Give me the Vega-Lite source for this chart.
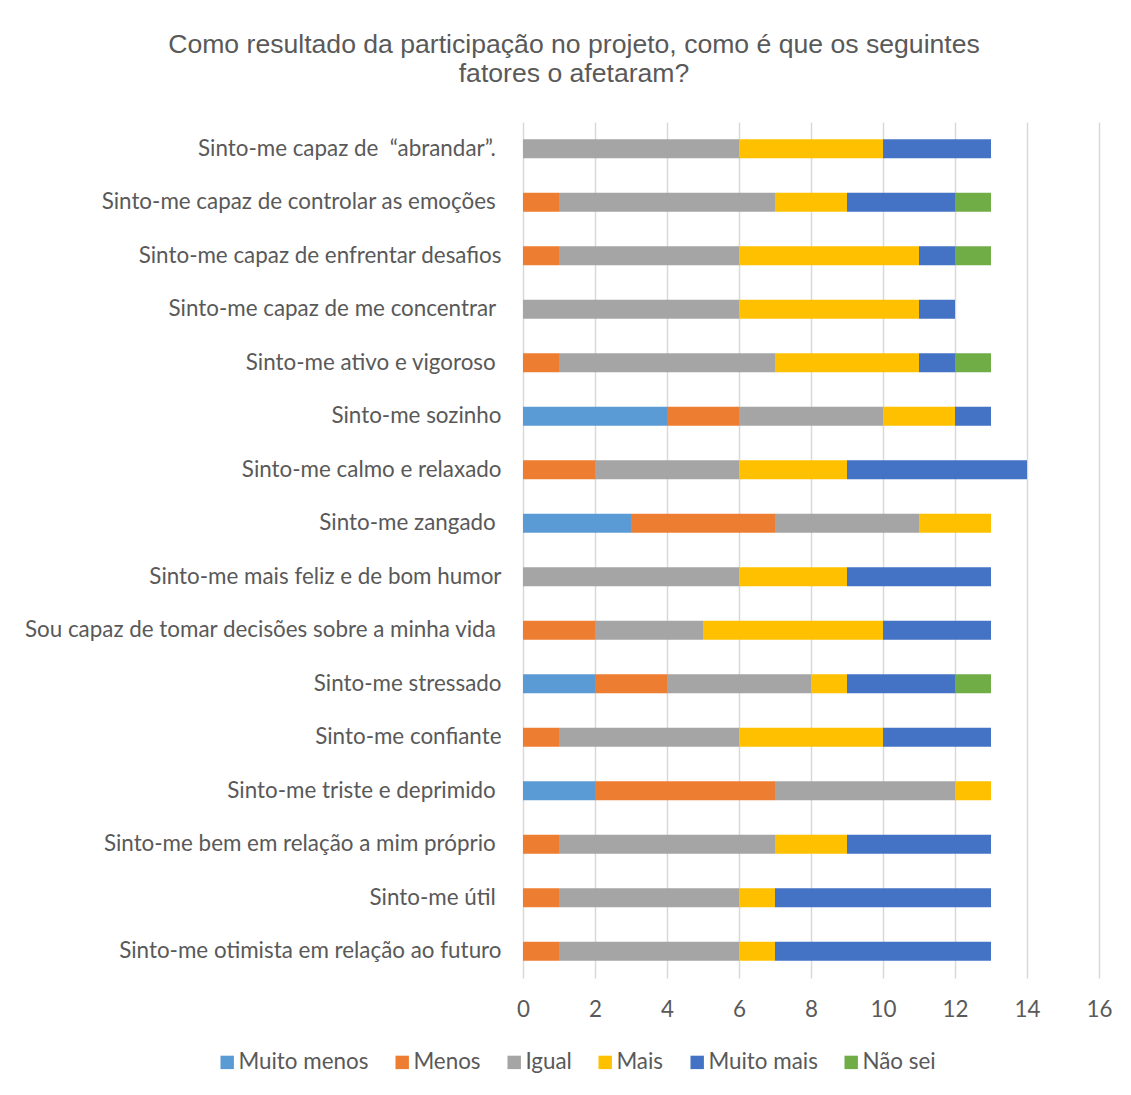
{
  "$schema": "https://vega.github.io/schema/vega-lite/v6.json",
  "autosize": {"type": "none"},
  "width": 576,
  "height": 856,
  "padding": {"left": 523, "top": 122, "right": 32, "bottom": 117},
  "background": "white",
  "title": {
    "text": ["Como resultado da participação no projeto, como é que os seguintes", "fatores o afetaram?"],
    "font": "Liberation Sans",
    "fontSize": 26.6,
    "fontWeight": "normal",
    "color": "#595959",
    "anchor": "middle",
    "frame": "group",
    "dx": -237,
    "lineHeight": 29,
    "offset": 34
  },
  "data": {
    "values": [
      {"item": "Sinto-me capaz de\u00a0 “abrandar”.\u00a0\u200b", "resposta": "Igual", "n": 6},
      {"item": "Sinto-me capaz de\u00a0 “abrandar”.\u00a0\u200b", "resposta": "Mais", "n": 4},
      {"item": "Sinto-me capaz de\u00a0 “abrandar”.\u00a0\u200b", "resposta": "Muito mais", "n": 3},
      {"item": "Sinto-me capaz de controlar as emoções\u00a0\u200b", "resposta": "Menos", "n": 1},
      {"item": "Sinto-me capaz de controlar as emoções\u00a0\u200b", "resposta": "Igual", "n": 6},
      {"item": "Sinto-me capaz de controlar as emoções\u00a0\u200b", "resposta": "Mais", "n": 2},
      {"item": "Sinto-me capaz de controlar as emoções\u00a0\u200b", "resposta": "Muito mais", "n": 3},
      {"item": "Sinto-me capaz de controlar as emoções\u00a0\u200b", "resposta": "Não sei", "n": 1},
      {"item": "Sinto-me capaz de enfrentar desafios", "resposta": "Menos", "n": 1},
      {"item": "Sinto-me capaz de enfrentar desafios", "resposta": "Igual", "n": 5},
      {"item": "Sinto-me capaz de enfrentar desafios", "resposta": "Mais", "n": 5},
      {"item": "Sinto-me capaz de enfrentar desafios", "resposta": "Muito mais", "n": 1},
      {"item": "Sinto-me capaz de enfrentar desafios", "resposta": "Não sei", "n": 1},
      {"item": "Sinto-me capaz de me concentrar\u00a0\u200b", "resposta": "Igual", "n": 6},
      {"item": "Sinto-me capaz de me concentrar\u00a0\u200b", "resposta": "Mais", "n": 5},
      {"item": "Sinto-me capaz de me concentrar\u00a0\u200b", "resposta": "Muito mais", "n": 1},
      {"item": "Sinto-me ativo e vigoroso\u00a0\u200b", "resposta": "Menos", "n": 1},
      {"item": "Sinto-me ativo e vigoroso\u00a0\u200b", "resposta": "Igual", "n": 6},
      {"item": "Sinto-me ativo e vigoroso\u00a0\u200b", "resposta": "Mais", "n": 4},
      {"item": "Sinto-me ativo e vigoroso\u00a0\u200b", "resposta": "Muito mais", "n": 1},
      {"item": "Sinto-me ativo e vigoroso\u00a0\u200b", "resposta": "Não sei", "n": 1},
      {"item": "Sinto-me sozinho", "resposta": "Muito menos", "n": 4},
      {"item": "Sinto-me sozinho", "resposta": "Menos", "n": 2},
      {"item": "Sinto-me sozinho", "resposta": "Igual", "n": 4},
      {"item": "Sinto-me sozinho", "resposta": "Mais", "n": 2},
      {"item": "Sinto-me sozinho", "resposta": "Muito mais", "n": 1},
      {"item": "Sinto-me calmo e relaxado", "resposta": "Menos", "n": 2},
      {"item": "Sinto-me calmo e relaxado", "resposta": "Igual", "n": 4},
      {"item": "Sinto-me calmo e relaxado", "resposta": "Mais", "n": 3},
      {"item": "Sinto-me calmo e relaxado", "resposta": "Muito mais", "n": 5},
      {"item": "Sinto-me zangado\u00a0\u200b", "resposta": "Muito menos", "n": 3},
      {"item": "Sinto-me zangado\u00a0\u200b", "resposta": "Menos", "n": 4},
      {"item": "Sinto-me zangado\u00a0\u200b", "resposta": "Igual", "n": 4},
      {"item": "Sinto-me zangado\u00a0\u200b", "resposta": "Mais", "n": 2},
      {"item": "Sinto-me mais feliz e de bom humor", "resposta": "Igual", "n": 6},
      {"item": "Sinto-me mais feliz e de bom humor", "resposta": "Mais", "n": 3},
      {"item": "Sinto-me mais feliz e de bom humor", "resposta": "Muito mais", "n": 4},
      {"item": "Sou capaz de tomar decisões sobre a minha vida\u00a0\u200b", "resposta": "Menos", "n": 2},
      {"item": "Sou capaz de tomar decisões sobre a minha vida\u00a0\u200b", "resposta": "Igual", "n": 3},
      {"item": "Sou capaz de tomar decisões sobre a minha vida\u00a0\u200b", "resposta": "Mais", "n": 5},
      {"item": "Sou capaz de tomar decisões sobre a minha vida\u00a0\u200b", "resposta": "Muito mais", "n": 3},
      {"item": "Sinto-me stressado", "resposta": "Muito menos", "n": 2},
      {"item": "Sinto-me stressado", "resposta": "Menos", "n": 2},
      {"item": "Sinto-me stressado", "resposta": "Igual", "n": 4},
      {"item": "Sinto-me stressado", "resposta": "Mais", "n": 1},
      {"item": "Sinto-me stressado", "resposta": "Muito mais", "n": 3},
      {"item": "Sinto-me stressado", "resposta": "Não sei", "n": 1},
      {"item": "Sinto-me confiante", "resposta": "Menos", "n": 1},
      {"item": "Sinto-me confiante", "resposta": "Igual", "n": 5},
      {"item": "Sinto-me confiante", "resposta": "Mais", "n": 4},
      {"item": "Sinto-me confiante", "resposta": "Muito mais", "n": 3},
      {"item": "Sinto-me triste e deprimido\u00a0\u200b", "resposta": "Muito menos", "n": 2},
      {"item": "Sinto-me triste e deprimido\u00a0\u200b", "resposta": "Menos", "n": 5},
      {"item": "Sinto-me triste e deprimido\u00a0\u200b", "resposta": "Igual", "n": 5},
      {"item": "Sinto-me triste e deprimido\u00a0\u200b", "resposta": "Mais", "n": 1},
      {"item": "Sinto-me bem em relação a mim próprio\u00a0\u200b", "resposta": "Menos", "n": 1},
      {"item": "Sinto-me bem em relação a mim próprio\u00a0\u200b", "resposta": "Igual", "n": 6},
      {"item": "Sinto-me bem em relação a mim próprio\u00a0\u200b", "resposta": "Mais", "n": 2},
      {"item": "Sinto-me bem em relação a mim próprio\u00a0\u200b", "resposta": "Muito mais", "n": 4},
      {"item": "Sinto-me útil\u00a0\u200b", "resposta": "Menos", "n": 1},
      {"item": "Sinto-me útil\u00a0\u200b", "resposta": "Igual", "n": 5},
      {"item": "Sinto-me útil\u00a0\u200b", "resposta": "Mais", "n": 1},
      {"item": "Sinto-me útil\u00a0\u200b", "resposta": "Muito mais", "n": 6},
      {"item": "Sinto-me otimista em relação ao futuro", "resposta": "Menos", "n": 1},
      {"item": "Sinto-me otimista em relação ao futuro", "resposta": "Igual", "n": 5},
      {"item": "Sinto-me otimista em relação ao futuro", "resposta": "Mais", "n": 1},
      {"item": "Sinto-me otimista em relação ao futuro", "resposta": "Muito mais", "n": 6}
    ]
  },
  "transform": [
    {"calculate": "indexof(['Muito menos', 'Menos', 'Igual', 'Mais', 'Muito mais', 'Não sei'], datum.resposta)", "as": "ordem"}
  ],
  "mark": {"type": "bar"},
  "encoding": {
    "y": {
      "field": "item",
      "type": "nominal",
      "sort": null,
      "scale": {"paddingInner": 0.645, "paddingOuter": 0.3225},
      "axis": {
        "title": null,
        "ticks": false,
        "domain": false,
        "grid": false,
        "labelPadding": 22,
        "labelFont": "Lato",
        "labelFontSize": 22.4,
        "labelColor": "#595959",
        "labelLimit": 600
      }
    },
    "x": {
      "field": "n",
      "type": "quantitative",
      "stack": "zero",
      "scale": {"domain": [0, 16], "nice": false},
      "axis": {
        "title": null,
        "values": [0, 2, 4, 6, 8, 10, 12, 14, 16],
        "ticks": false,
        "domain": false,
        "grid": true,
        "gridColor": "#D9D9D9",
        "gridWidth": 1.5,
        "labelFlush": false,
        "labelPadding": 20,
        "labelFont": "Lato",
        "labelFontSize": 22.4,
        "labelColor": "#595959"
      }
    },
    "order": {"field": "ordem", "type": "quantitative", "sort": "ascending"},
    "color": {
      "field": "resposta",
      "type": "nominal",
      "sort": ["Muito menos", "Menos", "Igual", "Mais", "Muito mais", "Não sei"],
      "scale": {
        "domain": ["Muito menos", "Menos", "Igual", "Mais", "Muito mais", "Não sei"],
        "range": ["#5B9BD5", "#ED7D31", "#A5A5A5", "#FFC000", "#4472C4", "#70AD47"]
      },
      "legend": {
        "title": null,
        "orient": "none",
        "direction": "horizontal",
        "legendX": -307,
        "legendY": 929,
        "symbolType": "square",
        "symbolSize": 180,
        "symbolStrokeWidth": 0,
        "labelFont": "Lato",
        "labelFontSize": 22.4,
        "labelColor": "#595959",
        "labelOffset": 0,
        "columnPadding": 22,
        "labelLimit": 300
      }
    }
  },
  "config": {
    "view": {"stroke": null},
    "font": "Lato"
  }
}
